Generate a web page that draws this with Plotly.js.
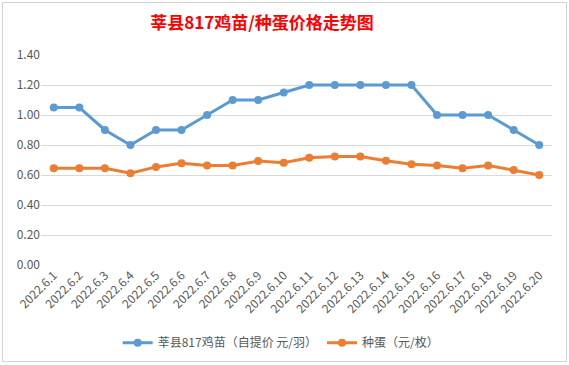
<!DOCTYPE html>
<html>
<head>
<meta charset="utf-8">
<script src="https://cdn.plot.ly/plotly-3.0.1.min.js"></script>
<style>
html,body{margin:0;padding:0;background:#fff;}
#wrap{position:relative;width:569px;height:365px;overflow:hidden;}
#frame{position:absolute;left:2px;top:2px;width:563px;height:358px;border:1px solid #d4d4d4;pointer-events:none;}
#chart{position:absolute;left:0;top:0;width:569px;height:365px;}
</style>
</head>
<body>
<div id="wrap">
<div id="chart"></div>
<div id="frame"></div>
</div>
<script>
const categories = ["2022.6.1","2022.6.2","2022.6.3","2022.6.4","2022.6.5","2022.6.6","2022.6.7","2022.6.8","2022.6.9","2022.6.10","2022.6.11","2022.6.12","2022.6.13","2022.6.14","2022.6.15","2022.6.16","2022.6.17","2022.6.18","2022.6.19","2022.6.20"];
const chickPrice = [1.05,1.05,0.90,0.80,0.90,0.90,1.00,1.10,1.10,1.15,1.20,1.20,1.20,1.20,1.20,1.00,1.00,1.00,0.90,0.80];
const eggPrice = [0.645,0.645,0.645,0.612,0.654,0.678,0.663,0.663,0.693,0.682,0.715,0.724,0.724,0.695,0.671,0.663,0.645,0.663,0.634,0.60];
const seriesNames = ["莘县817鸡苗（自提价 元/羽）","种蛋（元/枚）"];
const yTicks = [0,0.2,0.4,0.6,0.8,1.0,1.2,1.4];
const titleText = "莘县817鸡苗/种蛋价格走势图";

const font = "'Noto Sans CJK SC', 'Noto Sans', sans-serif";
const traces = [
  {x: categories, y: chickPrice, name: seriesNames[0], type: 'scatter', mode: 'lines+markers',
   line: {color: '#5B9BD5', width: 3}, marker: {color: '#5B9BD5', size: 8}},
  {x: categories, y: eggPrice, name: seriesNames[1], type: 'scatter', mode: 'lines+markers',
   line: {color: '#ED7D31', width: 3}, marker: {color: '#ED7D31', size: 8}}
];
const layout = {
  width: 569, height: 365,
  margin: {l: 41, r: 17, t: 55, b: 100, autoexpand: false},
  paper_bgcolor: 'rgba(0,0,0,0)', plot_bgcolor: 'rgba(0,0,0,0)',
  font: {family: font, color: '#595959', size: 12},
  title: {text: '<b>' + titleText + '</b>', x: 262/569, xanchor: 'center', xref: 'container',
          y: 1 - 23/365, yanchor: 'middle', yref: 'container',
          font: {family: font, size: 17, color: '#FF0000'}},
  xaxis: {type: 'category', range: [-0.5, categories.length - 0.5], tickangle: -45, showgrid: false, showline: false, zeroline: false, automargin: false,
          ticks: '', tickfont: {size: 12, color: '#595959'}, fixedrange: true},
  yaxis: {range: [0, 1.4], tickvals: yTicks, tickformat: '.2f', showgrid: true, gridcolor: '#d9d9d9', automargin: false,
          gridwidth: 1, zeroline: false, showline: false, ticks: '', tickfont: {size: 12, color: '#595959'}},
  showlegend: true,
  legend: {orientation: 'h', x: 0.47, xanchor: 'center', y: -0.37, yanchor: 'middle',
           font: {size: 12, color: '#595959'}, bgcolor: 'rgba(0,0,0,0)'},
};
Plotly.newPlot('chart', traces, layout, {displayModeBar: false, staticPlot: true});
</script>
</body>
</html>
